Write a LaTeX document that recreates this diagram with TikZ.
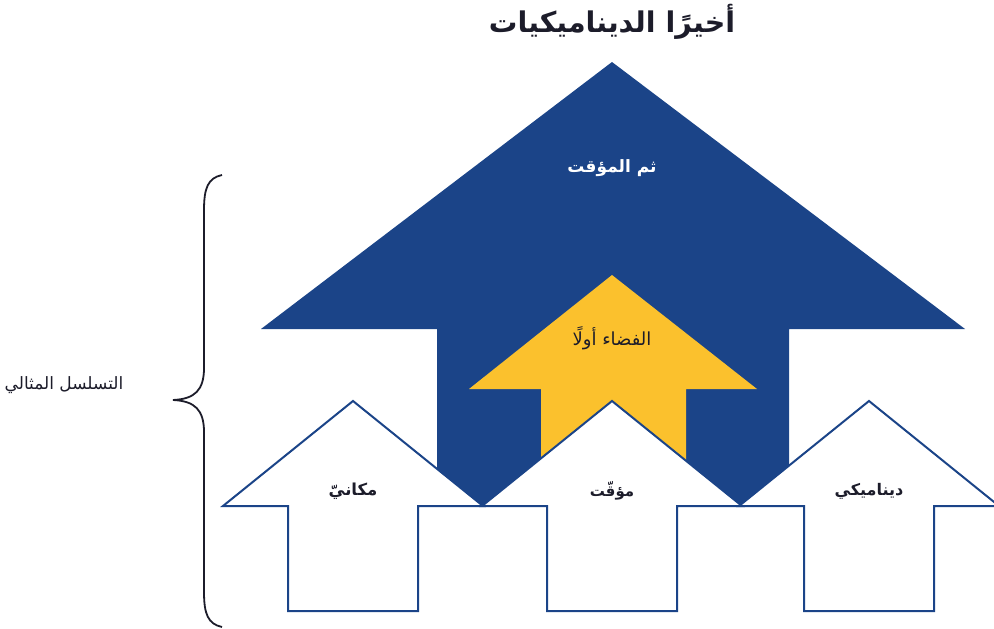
\documentclass[tikz,border=0pt]{standalone}
\usepackage{fontspec}
\newfontfamily\arabicfont[Script=Arabic]{DejaVu Sans}
\TeXXeTstate=1
\definecolor{deepblue}{HTML}{1B4488}
\definecolor{sunyellow}{HTML}{FBC12D}
\definecolor{inkdark}{HTML}{1C1C2A}
\begin{document}
\begin{tikzpicture}[x=1pt,y=-1pt,
whitearr/.style={draw=deepblue,fill=white,line width=2pt,line join=miter},
lbl/.style={font=\arabicfont\bfseries\fontsize{15.5}{18}\selectfont,text=inkdark},
plain/.style={font=\arabicfont\fontsize{17}{20}\selectfont,text=inkdark}
]
\useasboundingbox (0,0) rectangle (994,629);
% big arrow, then the small one in front
\fill[deepblue] (612,62) -- (965,329) -- (789,329) -- (789,506) -- (437,506) -- (437,329) -- (261,329) -- cycle;
\fill[sunyellow] (612,275) -- (757,389) -- (686,389) -- (686,480) -- (541,480) -- (541,389) -- (469,389) -- cycle;
% three outlined arrows
\foreach \cx in {353,612,869}
  \draw[whitearr] (\cx,401) -- ({\cx+130},506) -- ({\cx+65},506) -- ({\cx+65},611)
    -- ({\cx-65},611) -- ({\cx-65},506) -- ({\cx-130},506) -- cycle;
\node[font=\arabicfont\bfseries\fontsize{28.5}{32}\selectfont,text=inkdark] (title) at (612,22) {\beginR أخيرًا الديناميكيات\endR};
\node[lbl,text=white,font=\arabicfont\bfseries\fontsize{17}{20}\selectfont] (temporal) at (612,168) {\beginR ثم المؤقت\endR};
\node[plain,font=\arabicfont\fontsize{18}{21}\selectfont] (space) at (612,338) {\beginR الفضاء أولًا\endR};
\node[lbl,font=\arabicfont\bfseries\fontsize{16.5}{19}\selectfont] (spatial) at (353,491) {\beginR مكانيّ\endR};
\node[lbl,font=\arabicfont\bfseries\fontsize{15}{18}\selectfont] (timed) at (612,491) {\beginR مؤقّت\endR};
\node[lbl,font=\arabicfont\bfseries\fontsize{16}{19}\selectfont] (dynamic) at (869,491) {\beginR ديناميكي\endR};
% brace and its label
\draw[inkdark,line width=1.8pt] (222,175) .. controls (208,178) and (204,188) .. (204,210)
  -- (204,368) .. controls (204,390) and (195,399) .. (173,400)
  .. controls (195,401) and (204,410) .. (204,432)
  -- (204,592) .. controls (204,614) and (208,624) .. (222,627);
\node[plain] (order) at (64,385) {\beginR التسلسل المثالي\endR};
\end{tikzpicture}
\end{document}
